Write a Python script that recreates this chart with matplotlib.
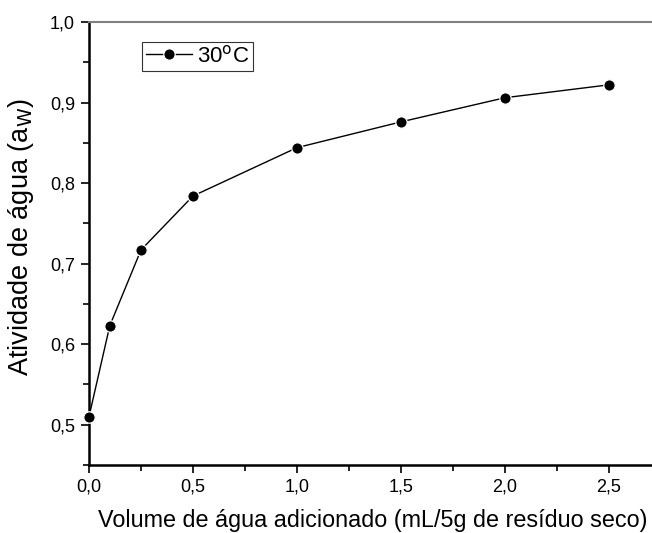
import matplotlib.pyplot as plt
from matplotlib.ticker import MultipleLocator, FuncFormatter

plt.rcParams['font.family'] = ['Liberation Sans', 'DejaVu Sans']

# volume of water added (mL / 5 g dry residue) and measured water activity
volume = [0.0, 0.1, 0.25, 0.5, 1.0, 1.5, 2.0, 2.5]
aw_30c = [0.510, 0.623, 0.717, 0.784, 0.844, 0.876, 0.906, 0.922]
series_label = '30$^{\\mathrm{o}}$C'


def comma_fmt(v, pos):
    return f'{v:.1f}'.replace('.', ',')


fig = plt.figure(figsize=(6.52, 5.33), dpi=100)
ax = fig.add_axes([89 / 652, 1 - 465 / 533, (652 - 89) / 652, (465 - 22) / 533])

ax.plot(volume, aw_30c, color='black', lw=1.0, marker='o', ms=8.2,
        markerfacecolor='black', markeredgecolor='white', markeredgewidth=0.9,
        label=series_label, clip_on=False, zorder=3)

ax.set_xlim(0, (652 - 89) / 208)
ax.set_ylim(0.45, 1.0)

ax.xaxis.set_major_locator(MultipleLocator(0.5))
ax.xaxis.set_minor_locator(MultipleLocator(0.25))
ax.yaxis.set_major_locator(MultipleLocator(0.1))
ax.yaxis.set_minor_locator(MultipleLocator(0.05))
ax.xaxis.set_major_formatter(FuncFormatter(comma_fmt))
ax.yaxis.set_major_formatter(FuncFormatter(comma_fmt))

ax.tick_params(which='major', direction='out', length=6, width=1.2, labelsize=13, pad=4)
ax.tick_params(which='minor', direction='out', length=4, width=1.2)
ax.tick_params(top=False, right=False)

ax.spines['right'].set_visible(False)
ax.spines['top'].set_color('#808080')
ax.spines['top'].set_linewidth(1.5)
for side in ('left', 'bottom'):
    ax.spines[side].set_linewidth(1.8)

# label anchors: x label by its top edge, y label by its right edge
ax.set_xlabel('Volume de água adicionado (mL/5g de resíduo seco)', fontsize=16.8)
ax.xaxis.set_label_coords((373 - 89) / 563, -(509 - 465) / 443)
ax.set_ylabel('Atividade de água (a$_{\\mathrm{W}}$)', fontsize=19.5)
ax.yaxis.set_label_coords(-(89 - 36) / 563, (465 - 237) / 443)

leg = ax.legend(loc='upper left', bbox_to_anchor=(0.095, 0.955), fontsize=16,
                frameon=True, fancybox=False, edgecolor='black', handlelength=2.1,
                handletextpad=0.2, borderpad=0.15, borderaxespad=0)
leg.get_frame().set_linewidth(0.8)

fig.savefig('out.png', dpi=100)
